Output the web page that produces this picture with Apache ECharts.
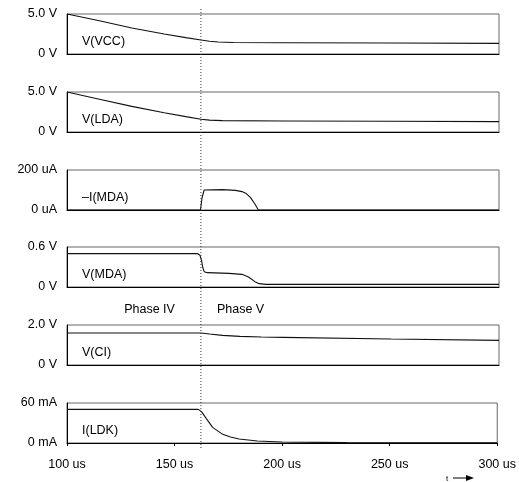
<!DOCTYPE html>
<html><head><meta charset="utf-8">
<script src="https://cdn.jsdelivr.net/npm/echarts@6/dist/echarts.min.js"></script>
<style>html,body{margin:0;padding:0;background:#fff}#c{width:519px;height:482px}</style>
</head><body><div id="c"></div>
<script>
// ---- data ----
const xTicks = [100, 150, 200, 250, 300];          // us
const phaseBoundary = 162;                          // us
const phaseLabels = ['Phase IV', 'Phase V'];
const panelNames = ['V(VCC)', 'V(LDA)', '\u2013I(MDA)', 'V(MDA)', 'V(CI)', 'I(LDK)'];
const yMax = [5, 5, 200, 0.6, 2, 60];
const yTickLabels = [['0 V','5.0 V'],['0 V','5.0 V'],['0 uA','200 uA'],['0 V','0.6 V'],['0 V','2.0 V'],['0 mA','60 mA']];
const vVCC = [[100,5.0],[115,4.15],[130,3.25],[145,2.5],[155,2.05],[162,1.75],[166,1.6],[170,1.5],[177,1.43],[200,1.41],[250,1.38],[300,1.33]];
const vLDA = [[100,5.0],[115,4.1],[130,3.2],[145,2.4],[155,1.92],[162,1.6],[166,1.48],[172,1.42],[200,1.38],[250,1.35],[300,1.3]];
const iMDA = [[100,0],[161.8,0],[162.5,60],[163.5,100],[164,105],[172,102],[178,98],[181,92],[183,82],[185,62],[187,30],[188.6,0],[300,0]];
const vMDA = [[100,0.5],[160.5,0.5],[161.5,0.48],[162.3,0.4],[162.8,0.3],[163.5,0.23],[165,0.215],[175,0.205],[181,0.19],[184,0.15],[187,0.08],[189,0.05],[192,0.04],[300,0.04]];
const vCI = [[100,1.6],[162,1.6],[166,1.55],[172,1.48],[180,1.43],[190,1.4],[200,1.38],[250,1.3],[300,1.23]];
const iLDK = [[100,50.5],[161,50.5],[162.5,47],[164.7,37],[167.7,23.5],[172.4,13],[176,9],[180,6],[188.5,3],[200,1.5],[230,0.6],[300,0.3]];
const seriesData = [vVCC, vLDA, iMDA, vMDA, vCI, iLDK];

// ---- layout ----
const gridTops = [14, 92, 170, 247, 325, 403];
const gridH = 40, gridLeft = 67, gridRight = 20;
const FONT = '"Liberation Sans", Arial, Helvetica, sans-serif';
const FS = 12.5;

const chart = echarts.init(document.getElementById('c'), null, {renderer: 'canvas'});
const grids = [], xAxes = [], yAxes = [], series = [];
for (let i = 0; i < 6; i++) {
  const last = i === 5;
  grids.push({left: gridLeft, right: gridRight, top: gridTops[i], height: gridH, show: true,
    borderColor: '#666', borderWidth: 1, backgroundColor: 'transparent'});
  xAxes.push({type: 'value', gridIndex: i, min: xTicks[0], max: xTicks[xTicks.length-1], interval: 50,
    axisLine: {show: true, onZero: false, lineStyle: {color: '#000', width: 1}},
    axisTick: {show: last, length: 3, lineStyle: {color: '#000'}},
    axisLabel: {show: last, margin: 15, color: '#000', fontSize: FS, fontFamily: FONT,
      formatter: v => v + ' us'},
    splitLine: {show: false}});
  const labs = yTickLabels[i];
  yAxes.push({type: 'value', gridIndex: i, min: 0, max: yMax[i], interval: yMax[i],
    axisLine: {show: true, onZero: false, lineStyle: {color: '#000', width: 1}},
    axisTick: {show: false},
    axisLabel: {show: true, margin: 10, color: '#000', fontSize: FS, fontFamily: FONT,
      formatter: v => (v === 0 ? labs[0] : labs[1])},
    splitLine: {show: false}});
  series.push({type: 'line', xAxisIndex: i, yAxisIndex: i, data: seriesData[i], showSymbol: false,
    symbol: 'none', smooth: false, lineStyle: {color: '#111', width: 1.1}, animation: false});
}
const textEls = panelNames.map((n, i) => ({type: 'text', left: 82, top: gridTops[i] + 21,
  style: {text: n, fill: '#000', font: FS + 'px ' + FONT}}));

chart.setOption({animation: false, grid: grids, xAxis: xAxes, yAxis: yAxes, series: series});

const bx = chart.convertToPixel({xAxisIndex: 0}, phaseBoundary);
const graphics = textEls.concat([
  {type: 'line', shape: {x1: bx, y1: 9, x2: bx, y2: 450}, style: {stroke: '#333', lineWidth: 1, lineDash: [1, 2]}, z: 10},
  {type: 'text', x: bx - 26, y: 310, style: {text: phaseLabels[0], fill: '#000', font: FS + 'px ' + FONT, align: 'right', verticalAlign: 'middle'}},
  {type: 'text', x: bx + 16, y: 310, style: {text: phaseLabels[1], fill: '#000', font: FS + 'px ' + FONT, align: 'left', verticalAlign: 'middle'}},
  {type: 'text', x: 447, y: 479, style: {text: 't', fill: '#000', font: '8px ' + FONT, align: 'center', verticalAlign: 'middle'}},
  {type: 'line', shape: {x1: 453, y1: 478, x2: 467, y2: 478}, style: {stroke: '#000', lineWidth: 1}},
  {type: 'polygon', shape: {points: [[466, 475], [474, 478], [466, 481]]}, style: {fill: '#000'}}
]);
chart.setOption({graphic: graphics});
</script></body></html>
